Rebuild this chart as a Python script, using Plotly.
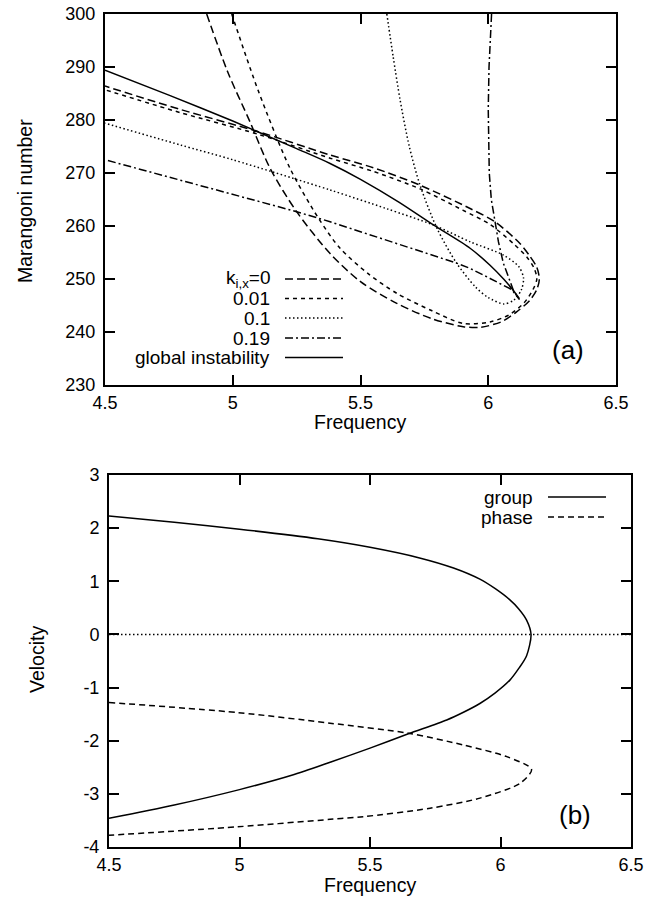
import plotly.graph_objects as go

# ---------------- data: panel (a) ----------------
k0_x = [4.898, 4.98, 5.068, 5.146, 5.25, 5.381, 5.5, 5.642, 5.78, 5.902, 5.97, 6.05, 6.111, 6.163, 6.19, 6.2, 6.19, 6.16, 6.124, 6.026, 5.929, 5.733, 5.55, 5.381, 5.1, 4.794, 4.5]
k0_y = [300, 289.1, 279.6, 270.9, 262.7, 254.8, 249.5, 245.4, 242.5, 241.0, 240.9, 241.9, 243.8, 246.0, 248.0, 250.0, 252.2, 254.5, 256.7, 260.8, 263.3, 267.7, 271.0, 273.4, 277.8, 282.0, 286.4]

k001_x = [4.996, 5.1, 5.224, 5.335, 5.42, 5.53, 5.642, 5.78, 5.902, 6.007, 6.08, 6.14, 6.175, 6.19, 6.18, 6.15, 6.1, 6.007, 5.9, 5.733, 5.55, 5.381, 5.1, 4.794, 4.5]
k001_y = [300, 285.5, 270.9, 261.5, 255.8, 251.0, 247.3, 244.0, 241.6, 241.9, 243.2, 245.5, 248.0, 250.0, 252.0, 254.2, 256.6, 260.3, 263.0, 267.0, 270.3, 272.8, 277.3, 281.4, 285.7]

k01_x = [5.603, 5.628, 5.655, 5.691, 5.733, 5.8, 5.876, 5.95, 6.0, 6.06, 6.1, 6.13, 6.138, 6.12, 6.06, 5.93, 5.785, 5.6, 5.381, 5.0, 4.794, 4.5]
k01_y = [300, 291.9, 283.8, 275.0, 267.7, 259.5, 253.0, 248.5, 246.5, 245.3, 246.0, 248.0, 250.2, 252.3, 254.5, 257.0, 260.2, 263.3, 266.8, 272.5, 275.3, 279.4]

k019_x = [6.013, 6.003, 6.0, 6.004, 6.012, 6.026, 6.04, 6.059, 6.08, 6.098, 6.122, 6.092, 6.007, 5.929, 5.876, 5.6, 5.381, 5.25, 4.794, 4.5]
k019_y = [300, 290, 282, 270, 265, 260.8, 257, 253.0, 250.2, 247.9, 246.1, 248.0, 250.1, 252.0, 253.0, 257.4, 260.8, 262.7, 268.7, 272.5]

glob_x = [4.5, 4.75, 5.0, 5.25, 5.381, 5.5, 5.65, 5.785, 5.929, 6.007, 6.06, 6.092, 6.122]
glob_y = [289.4, 284.7, 279.8, 274.6, 271.8, 268.8, 264.5, 260.2, 255.8, 252.6, 250.0, 248.2, 246.3]

# ---------------- data: panel (b) ----------------
group_x = [4.5, 4.75, 5.0, 5.3, 5.5, 5.69, 5.82, 5.921, 5.98, 6.036, 6.07, 6.10, 6.117,
           6.10, 6.07, 6.036, 5.98, 5.921, 5.86, 5.794, 5.647, 5.5, 5.35, 5.2, 5.0, 4.75, 4.5]
group_y = [2.23, 2.11, 1.98, 1.80, 1.64, 1.44, 1.25, 1.04, 0.86, 0.65, 0.48, 0.27, 0.0,
           -0.40, -0.64, -0.86, -1.10, -1.30, -1.46, -1.61, -1.87, -2.14, -2.40, -2.65, -2.92, -3.21, -3.46]

phase_x = [4.5, 4.993, 5.347, 5.647, 5.857, 6.024, 6.119, 6.075, 5.921, 5.73, 5.474, 5.347, 4.993, 4.5]
phase_y = [-1.28, -1.47, -1.67, -1.86, -2.08, -2.30, -2.54, -2.80, -3.08, -3.27, -3.43, -3.48, -3.62, -3.78]

zero_x = [4.5, 6.5]
zero_y = [0, 0]

freq_ticks = [4.5, 5, 5.5, 6, 6.5]
ma_ticks = [230, 240, 250, 260, 270, 280, 290, 300]
vel_ticks = [-4, -3, -2, -1, 0, 1, 2, 3]

FONT = "Liberation Sans, Arial, sans-serif"
BLACK = "black"
LW = 1.5

DASH_K0 = "8px,4px"
DASH_K001 = "4px,4px"
DASH_K01 = "1.5px,2.5px"
DASH_K019 = "8px,3px,2px,3px"
DASH_PHASE = "6px,4px"

fig = go.Figure()

def add(x, y, dash, xa, ya, shape="spline"):
    fig.add_trace(go.Scatter(x=x, y=y, mode="lines", xaxis=xa, yaxis=ya,
                             line=dict(color=BLACK, width=LW, dash=dash, shape=shape, smoothing=0.8),
                             showlegend=False, hoverinfo="skip"))

add(k0_x, k0_y, DASH_K0, "x", "y")
add(k001_x, k001_y, DASH_K001, "x", "y")
add(k01_x, k01_y, DASH_K01, "x", "y")
add(k019_x, k019_y, DASH_K019, "x", "y", shape="linear")
add(glob_x, glob_y, "solid", "x", "y")

add(zero_x, zero_y, DASH_K01, "x2", "y2", shape="linear")
add(group_x, group_y, "solid", "x2", "y2")
add(phase_x, phase_y, DASH_PHASE, "x2", "y2")

W, H = 651, 897
def px(x):
    return x / W
def py(y):
    return 1 - y / H

axis_common = dict(showgrid=False, zeroline=False, showline=True, linecolor=BLACK, linewidth=2,
                   mirror="ticks", ticks="inside", ticklen=10, tickwidth=2, tickcolor=BLACK,
                   automargin=False,
                   tickfont=dict(family=FONT, size=18, color=BLACK))

fig.update_layout(
    template="none",
    width=W, height=H, margin=dict(l=0, r=0, t=0, b=0, pad=0, autoexpand=False),
    paper_bgcolor="white", plot_bgcolor="white", showlegend=False,
    xaxis=dict(axis_common, domain=[px(105), px(616)], range=[4.5, 6.5], tickvals=freq_ticks,
               ticktext=[str(t) for t in freq_ticks], anchor="y"),
    yaxis=dict(axis_common, domain=[py(385), py(14)], range=[230, 300], tickvals=ma_ticks,
               ticktext=[str(t) for t in ma_ticks], anchor="x", ticklabelstandoff=4),
    xaxis2=dict(axis_common, domain=[px(109), px(631)], range=[4.5, 6.5], tickvals=freq_ticks,
                ticktext=[str(t) for t in freq_ticks], anchor="y2"),
    yaxis2=dict(axis_common, domain=[py(847), py(475)], range=[-4, 3], tickvals=vel_ticks,
                ticktext=[str(t) for t in vel_ticks], anchor="x2", ticklabelstandoff=4),
)

annots = []
def txt(x, y, s, size=19.5, xanchor="center", angle=0):
    annots.append(dict(x=px(x), y=py(y), xref="paper", yref="paper", text=s, showarrow=False,
                       xanchor=xanchor, yanchor="middle", textangle=angle,
                       font=dict(family=FONT, size=size, color=BLACK)))

txt(360, 422, "Frequency")
txt(370, 885, "Frequency")
txt(25, 201, "Marangoni number", angle=-90)
txt(37, 660, "Velocity", angle=-90)
txt(568, 350, "(a)", size=26)
txt(575, 815, "(b)", size=26)

shapes = []
def sample(x0, x1, y, dash):
    shapes.append(dict(type="line", xref="paper", yref="paper", x0=px(x0), x1=px(x1), y0=py(y), y1=py(y),
                       line=dict(color=BLACK, width=LW, dash=dash)))

leg_a = [("k<sub>i,x</sub>=0", DASH_K0, 279), ("0.01", DASH_K001, 298.5), ("0.1", DASH_K01, 318),
         ("0.19", DASH_K019, 338), ("global instability", "solid", 357.5)]
for label, dash, yy in leg_a:
    txt(272, yy, label, size=19, xanchor="right")
    sample(285, 343, yy, dash)

leg_b = [("group", "solid", 497), ("phase", DASH_PHASE, 517)]
for label, dash, yy in leg_b:
    txt(535, yy, label, size=19, xanchor="right")
    sample(548, 606, yy, dash)

fig.update_layout(annotations=annots, shapes=shapes)
fig.write_html("out.html")
